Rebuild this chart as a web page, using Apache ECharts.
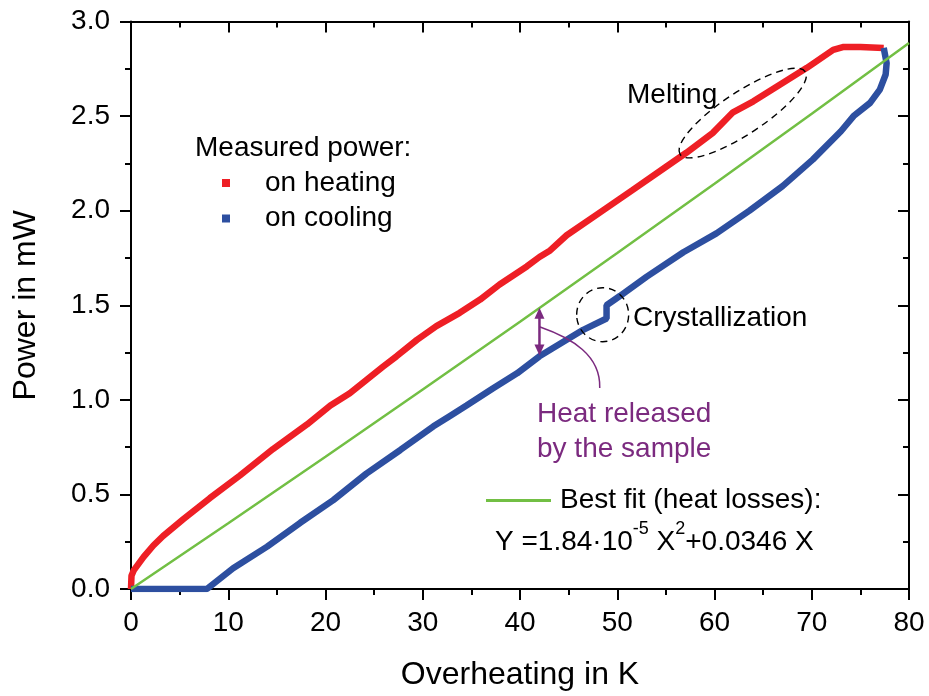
<!DOCTYPE html>
<html>
<head>
<meta charset="utf-8">
<script src="https://cdn.jsdelivr.net/npm/echarts@6/dist/echarts.min.js"></script>
<style>
html,body{margin:0;padding:0;background:#fff;}
#chart{width:929px;height:696px;}
</style>
</head>
<body>
<div id="chart"></div>
<script>
// ---- data ----
var heatX = [0, 0.05, 0.3, 1.3, 2.3, 3.3, 5.4, 8.1, 11.2, 14.6, 18.1, 20.5, 22.5, 24.2, 25.9, 27.3, 29.4, 31.4, 33.8, 35.9, 37.9, 40.7, 42.0, 43.1, 44.8, 48.2, 51.6, 55.1, 57.1, 59.8, 61.9, 64.0, 67.0, 69.5, 72.2, 73.2, 75.0, 77.4];
var heatY = [0, 0.07, 0.1, 0.17, 0.23, 0.28, 0.37, 0.48, 0.60, 0.74, 0.87, 0.97, 1.035, 1.105, 1.175, 1.23, 1.317, 1.39, 1.46, 1.53, 1.61, 1.705, 1.755, 1.79, 1.87, 1.99, 2.11, 2.235, 2.306, 2.41, 2.52, 2.578, 2.675, 2.755, 2.85, 2.865, 2.865, 2.86];

var coolX = [77.4, 77.7, 77.6, 77.0, 76.0, 74.3, 73.0, 70.1, 67.0, 63.6, 60.2, 56.8, 53.0, 50.3, 48.9, 48.9, 46.5, 42.0, 39.7, 37.2, 34.5, 32.8, 31.1, 27.7, 24.2, 20.8, 17.4, 14.0, 10.5, 7.8, 5.0, 0];
var coolY = [2.86, 2.78, 2.72, 2.64, 2.57, 2.50, 2.42, 2.27, 2.13, 2.00, 1.88, 1.78, 1.65, 1.55, 1.50, 1.43, 1.37, 1.23, 1.14, 1.06, 0.97, 0.915, 0.86, 0.735, 0.61, 0.47, 0.35, 0.224, 0.11, 0.0, 0.0, 0.0];

var fitX = [0, 10, 20, 30, 40, 50, 60, 70, 80];
var fitY = [0, 0.348, 0.699, 1.055, 1.413, 1.776, 2.142, 2.512, 2.886];

var seriesNames = ['on heating', 'on cooling', 'Best fit (heat losses):'];
var xTitle = 'Overheating in K';
var yTitle = 'Power in mW';

function zip(a, b) { return a.map(function (v, i) { return [v, b[i]]; }); }

var FONT = '"Liberation Sans", Arial, sans-serif';
var RED = '#ee1f25', BLUE = '#2d4fa0', GREEN = '#72bf44', PURPLE = '#7b2a7f';

var chart = echarts.init(document.getElementById('chart'), null, {renderer: 'canvas'});

function axisBase(pos, inside, showLabel) {
  return {
    type: 'value', position: pos,
    axisLine: {show: true, onZero: false, lineStyle: {color: '#000', width: 2}},
    axisTick: {show: true, inside: inside, length: 11, lineStyle: {color: '#000', width: 2}},
    minorTick: {show: true, splitNumber: 2, length: 6, lineStyle: {color: '#000', width: 2}},
    splitLine: {show: false},
    axisLabel: {show: showLabel, color: '#000', fontSize: 28, fontFamily: FONT},
  };
}

var xb = axisBase('bottom', false, true);
xb.min = 0; xb.max = 80; xb.interval = 10;
xb.axisLabel.margin = 20;
xb.name = xTitle; xb.nameLocation = 'middle'; xb.nameGap = 70;
xb.nameTextStyle = {color: '#000', fontSize: 32, fontFamily: FONT};
var xt = axisBase('top', true, false);
xt.min = 0; xt.max = 80; xt.interval = 10;

var yl = axisBase('left', false, true);
yl.min = 0; yl.max = 3; yl.interval = 0.5;
yl.axisLabel.margin = 21;
yl.axisLabel.formatter = function (v) { return v.toFixed(1); };
yl.name = yTitle; yl.nameLocation = 'middle'; yl.nameGap = 89;
yl.nameTextStyle = {color: '#000', fontSize: 32, fontFamily: FONT};
var yr = axisBase('right', true, false);
yr.min = 0; yr.max = 3; yr.interval = 0.5;

chart.setOption({
  animation: false,
  backgroundColor: '#fff',
  grid: {left: 131, right: 20, top: 21.5, bottom: 107},
  xAxis: [xb, xt],
  yAxis: [yl, yr],
  legend: [
    {
      data: [{name: seriesNames[0], icon: 'rect'}, {name: seriesNames[1], icon: 'rect'}],
      orient: 'vertical', left: 222, top: 169, itemWidth: 8, itemHeight: 8, itemGap: 7.5,
      selectedMode: false, padding: 0,
      textStyle: {color: '#000', fontSize: 28, fontFamily: FONT, lineHeight: 28, padding: [0, 0, 0, 30]}
    },
    {
      data: [{name: seriesNames[2], icon: 'rect'}],
      orient: 'horizontal', left: 486, top: 486.5, itemWidth: 65, itemHeight: 3,
      selectedMode: false, padding: 0,
      textStyle: {color: '#000', fontSize: 28, fontFamily: FONT, lineHeight: 28, padding: [0, 0, 0, 4]}
    }
  ],
  series: [
    {name: seriesNames[0], type: 'line', data: zip(heatX, heatY), symbol: 'none', z: 2,
     itemStyle: {color: RED}, lineStyle: {color: RED, width: 6.5, join: 'bevel'}},
    {name: seriesNames[1], type: 'line', data: zip(coolX, coolY), symbol: 'none', z: 3,
     itemStyle: {color: BLUE}, lineStyle: {color: BLUE, width: 6.5, join: 'bevel'}},
    {name: seriesNames[2], type: 'line', data: zip(fitX, fitY), symbol: 'none', z: 4,
     itemStyle: {color: GREEN}, lineStyle: {color: GREEN, width: 2.5}}
  ]
});

// ---- annotations anchored in data units ----
var ann = {
  melt: {c: [62.9, 2.516], rx: 75, ry: 21, rot: 33.4},
  cryst: {c: [48.5, 1.45], rx: 26, ry: 27},
  arrowX: 42.0, arrowTop: 1.487, arrowBot: 1.235,
  curve: [[42.0, 1.386], [45.4, 1.325], [48.3, 1.235], [48.2, 1.063]]
};
function px(p) { return chart.convertToPixel({xAxisIndex: 0, yAxisIndex: 0}, p); }

var mc = px(ann.melt.c), cc = px(ann.cryst.c);
var a1 = px([ann.arrowX, ann.arrowTop]), a2 = px([ann.arrowX, ann.arrowBot]);
var cv = ann.curve.map(px);
var ah = 11, aw = 5;

function txt(s, x, y, color) {
  return {type: 'text', left: x, top: y - 13, z: 10,
    style: {text: s, fill: color || '#000', font: '28px ' + FONT, textVerticalAlign: 'top'}};
}

chart.setOption({
  graphic: [
    {type: 'ellipse', x: mc[0], y: mc[1], rotation: ann.melt.rot * Math.PI / 180, z: 10,
     shape: {cx: 0, cy: 0, rx: ann.melt.rx, ry: ann.melt.ry},
     style: {fill: 'none', stroke: '#000', lineWidth: 1.4, lineDash: [7, 5]}},
    {type: 'ellipse', x: cc[0], y: cc[1], z: 10,
     shape: {cx: 0, cy: 0, rx: ann.cryst.rx, ry: ann.cryst.ry},
     style: {fill: 'none', stroke: '#000', lineWidth: 1.4, lineDash: [7, 5]}},
    {type: 'line', z: 10, shape: {x1: a1[0], y1: a1[1] + ah - 1, x2: a2[0], y2: a2[1] - ah + 1},
     style: {stroke: PURPLE, lineWidth: 2.5}},
    {type: 'polygon', z: 10, shape: {points: [[a1[0], a1[1]], [a1[0] - aw, a1[1] + ah], [a1[0] + aw, a1[1] + ah]]},
     style: {fill: PURPLE}},
    {type: 'polygon', z: 10, shape: {points: [[a2[0], a2[1]], [a2[0] - aw, a2[1] - ah], [a2[0] + aw, a2[1] - ah]]},
     style: {fill: PURPLE}},
    {type: 'bezierCurve', z: 10,
     shape: {x1: cv[0][0], y1: cv[0][1], cpx1: cv[1][0], cpy1: cv[1][1], cpx2: cv[2][0], cpy2: cv[2][1], x2: cv[3][0], y2: cv[3][1]},
     style: {fill: 'none', stroke: PURPLE, lineWidth: 1.5}},
    txt('Measured power:', 195, 147),
    txt('Melting', 627, 94),
    txt('Crystallization', 633, 317),
    txt('Heat released', 537, 413, PURPLE),
    txt('by the sample', 537, 448, PURPLE),
    {type: 'text', left: 495, top: 541 - 21, z: 10,
     style: {
       text: '{n|Y =1.84·10}{s|-5}{n| X}{s|2}{n|+0.0346 X}',
       fill: '#000',
       rich: {
         n: {fontSize: 28, fontFamily: FONT, lineHeight: 36, verticalAlign: 'bottom', fill: '#000'},
         s: {fontSize: 18, fontFamily: FONT, lineHeight: 36, verticalAlign: 'top', fill: '#000'}
       }
     }}
  ]
});
</script>
</body>
</html>
